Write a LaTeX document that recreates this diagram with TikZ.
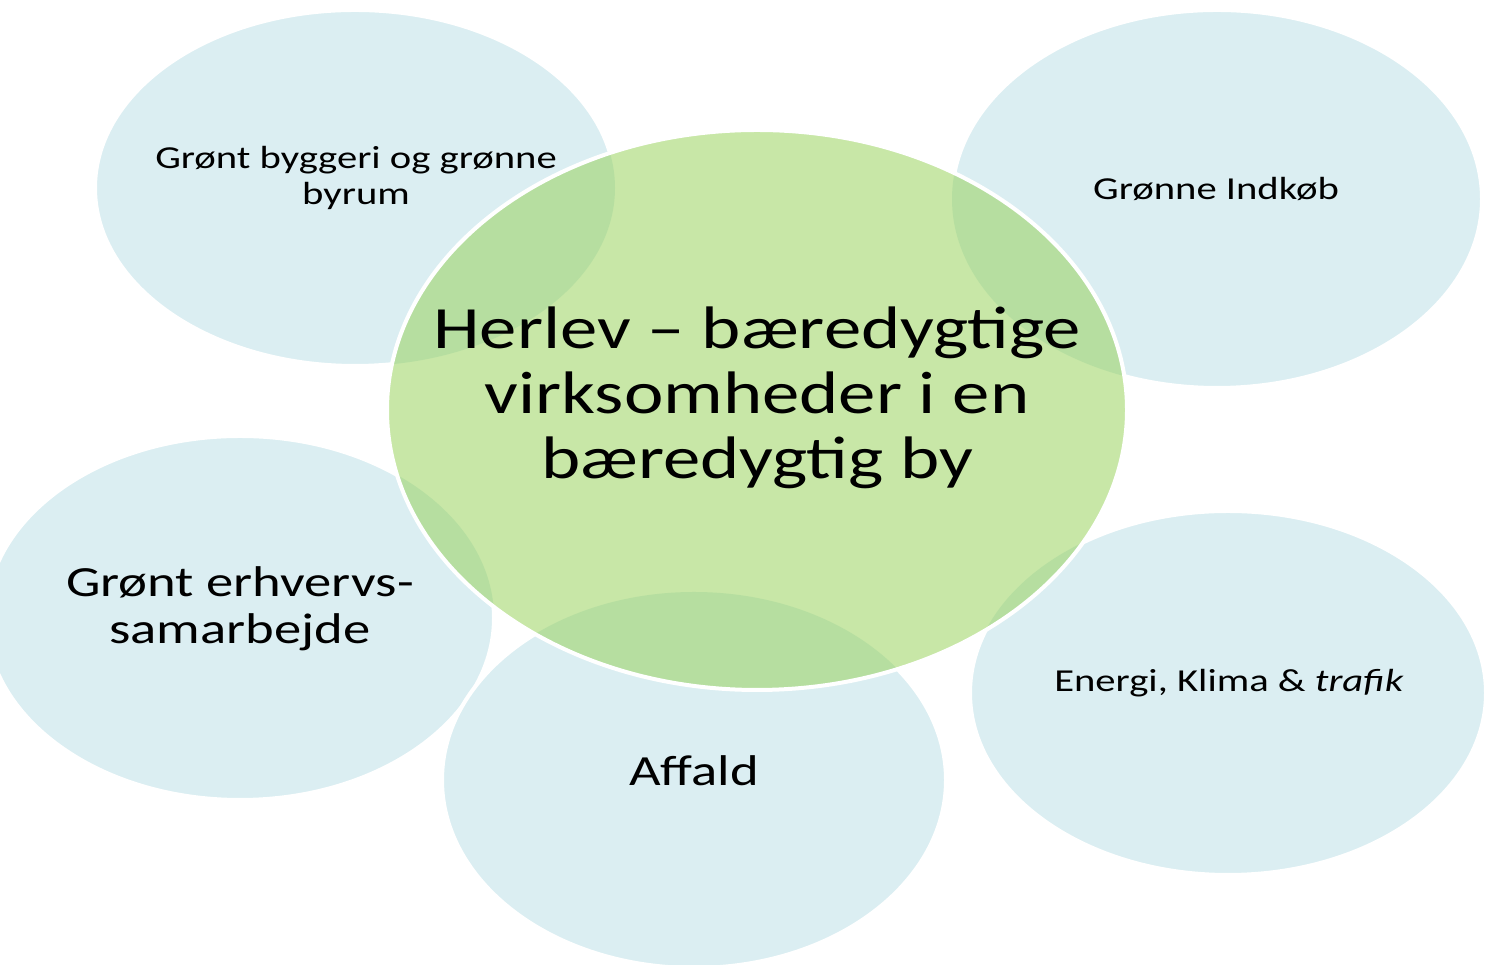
\documentclass[tikz,border=0pt]{standalone}
\usepackage{fontspec}
\setmainfont{Carlito}[FakeStretch=1.27]
\newfontfamily\centerfont{Carlito}[FakeStretch=1.245]
\begin{document}
\begin{tikzpicture}[x=1pt,y=1pt]
\definecolor{outerblue}{HTML}{DBEEF2}
\definecolor{centergreen}{HTML}{92D050}
\tikzset{
  outerfill/.style={fill=outerblue},
  outerline/.style={draw=white,line width=4pt},
  lbl/.style={align=center,font=\fontsize{32}{36}\selectfont,text=black,inner sep=0pt},
  biglbl/.style={align=center,font=\fontsize{43}{47}\selectfont,text=black,inner sep=0pt},
  centerlbl/.style={align=center,font=\centerfont\fontsize{60}{65}\selectfont,text=black,inner sep=0pt}
}
\useasboundingbox (0,0) rectangle (1493,965);
% centres (y up) and radii
\def\elTL{(355,777) ellipse [x radius=260,y radius=178]}
\def\elTR{(1217,766) ellipse [x radius=265,y radius=189]}
\def\elL{(240,347) ellipse [x radius=254,y radius=182]}
\def\elB{(694,185) ellipse [x radius=252,y radius=188]}
\def\elR{(1228,272) ellipse [x radius=258,y radius=182]}
\def\elC{(757,555) ellipse [x radius=370,y radius=280]}
% outer ellipses
\path[outerfill,outerline] \elTL;
\path[outerfill,outerline] \elTR;
\path[outerfill,outerline] \elL;
\path[outerfill,outerline] \elB;
\path[outerfill,outerline] \elR;
% central ellipse: hide outlines beneath, refill blue inside
\fill[white] \elC;
\begin{scope}
  \clip \elC;
  \fill[outerblue] \elTL;
  \fill[outerblue] \elTR;
  \fill[outerblue] \elL;
  \fill[outerblue] \elB;
  \fill[outerblue] \elR;
\end{scope}
\fill[centergreen,fill opacity=0.5] \elC;
\draw[white,line width=4pt] \elC;
% labels
\node[lbl] (tl) at (356,787) {Grønt byggeri og grønne\\byrum};
\node[lbl] (tr) at (1216,776) {Grønne Indkøb};
\node[biglbl] (l) at (240,356) {Grønt erhvervs-\\samarbejde};
\node[biglbl] (b) at (694,194) {Affald};
\node[lbl] (r) at (1229,282) {Energi, Klima \& \textit{trafik}};
\node[centerlbl] (c) at (757,567) {Herlev – bæredygtige\\virksomheder i en\\bæredygtig by};
\end{tikzpicture}
\end{document}
